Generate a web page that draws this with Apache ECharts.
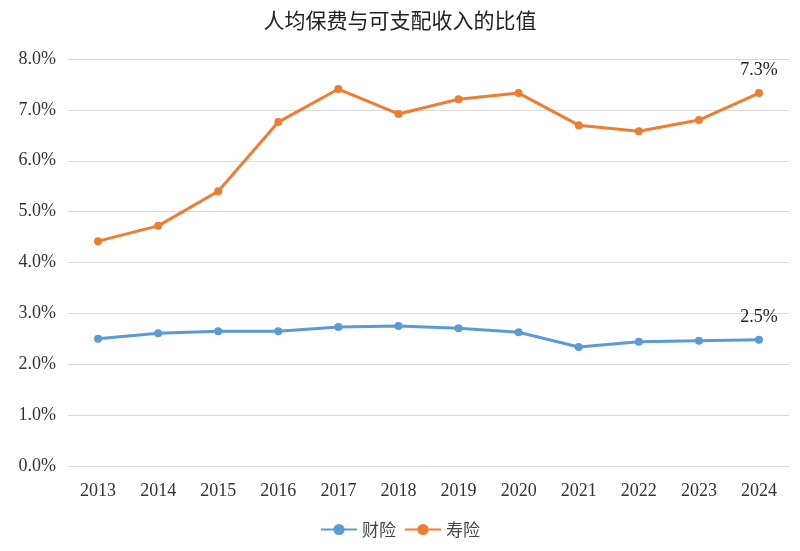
<!DOCTYPE html>
<html><head><meta charset="utf-8">
<script src="https://cdn.jsdelivr.net/npm/echarts@6/dist/echarts.min.js"></script>
<style>html,body{margin:0;padding:0;background:#fff}#c{width:800px;height:551px}</style>
</head><body><div id="c"></div>
<script>
const years = ['2013','2014','2015','2016','2017','2018','2019','2020','2021','2022','2023','2024'];
const propertyIns = [2.50,2.61,2.65,2.65,2.73,2.75,2.71,2.63,2.34,2.44,2.46,2.48];
const lifeIns = [4.42,4.72,5.40,6.76,7.41,6.92,7.21,7.33,6.70,6.58,6.80,7.33];
const font = 'Liberation Serif, Times New Roman, serif';
const lbl = {show:true,position:'top',fontFamily:font,fontSize:18,color:'#222',formatter:p=>p.value.toFixed(1)+'%',distance:10};
function mk(arr){return arr.map((v,i)=>i===arr.length-1?{value:v,label:lbl}:v);}
const chart = echarts.init(document.getElementById('c'));
chart.setOption({
  animation:false,
  textStyle:{fontFamily:font},
  title:{text:'人均保费与可支配收入的比值',left:'center',top:5,textStyle:{fontFamily:'Noto Sans CJK SC',fontWeight:'normal',fontSize:21,color:'#222'}},
  legend:{bottom:8,itemWidth:36,textStyle:{fontFamily:'Noto Sans CJK SC',fontSize:17,color:'#444'},data:['财险','寿险']},
  grid:{left:68,right:11,top:59,bottom:85},
  xAxis:{type:'category',data:years,axisTick:{show:false},axisLine:{lineStyle:{color:'#d9d9d9'}},axisLabel:{fontFamily:font,fontSize:18,color:'#333',margin:16}},
  yAxis:{type:'value',min:0,max:8,interval:1,axisLabel:{fontFamily:font,fontSize:18,color:'#333',formatter:v=>v.toFixed(1)+'%',margin:12},splitLine:{lineStyle:{color:'#d9d9d9'}}},
  series:[
    {name:'财险',type:'line',data:mk(propertyIns),color:'#5b9bd5',lineStyle:{width:3},symbol:'circle',symbolSize:8},
    {name:'寿险',type:'line',data:mk(lifeIns),color:'#ed7d31',lineStyle:{width:3},symbol:'circle',symbolSize:8}
  ]
});
</script></body></html>
